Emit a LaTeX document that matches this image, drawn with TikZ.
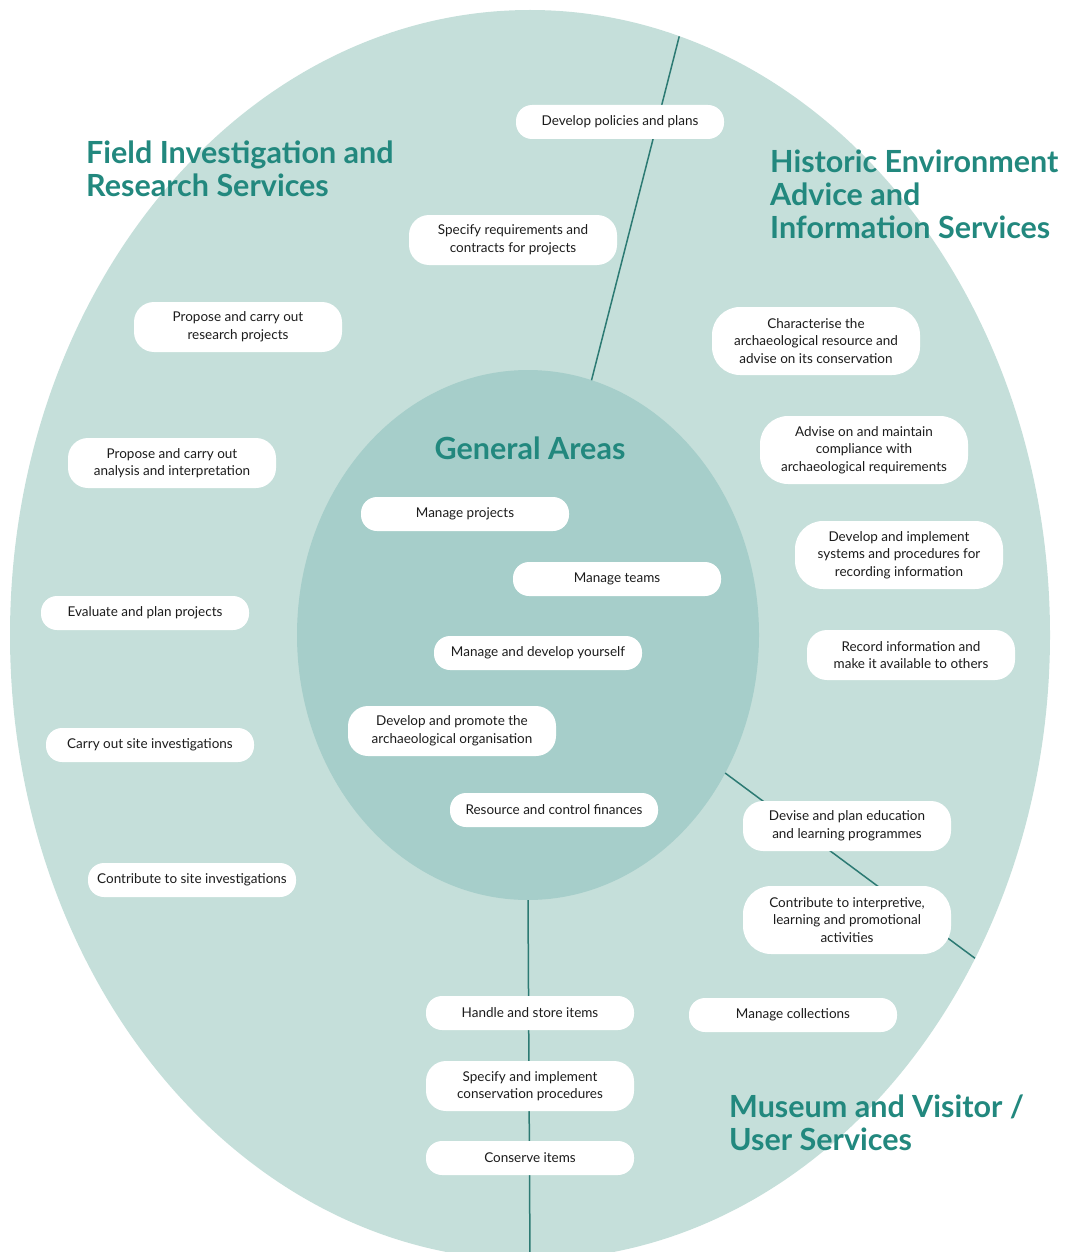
\documentclass[tikz,border=0pt]{standalone}
\usepackage{fontspec}
\setmainfont{Lato}
\usetikzlibrary{shapes.geometric}
\definecolor{outerfill}{HTML}{C5DFDA}
\definecolor{innerfill}{HTML}{A6CECA}
\definecolor{titlecol}{HTML}{22887E}
\definecolor{linecol}{HTML}{2C7A73}
\definecolor{boxtext}{HTML}{1C1C1C}
\begin{document}
\begin{tikzpicture}[x=1pt,y=-1pt,
  pill/.style={fill=white, rounded corners=16pt, minimum width=208pt, minimum height=34pt, inner sep=0pt, align=center, text=boxtext, font=\fontsize{13.5}{17.5}\selectfont},
  pilltwo/.style={pill, minimum height=50pt, rounded corners=20pt},
  pillthree/.style={pill, minimum height=68pt, rounded corners=28pt},
  areatitle/.style={text=titlecol, font=\bfseries\fontsize{30.5}{33}\selectfont, align=left, inner sep=0pt, anchor=north west},
  divider/.style={draw=linecol, line width=1.5pt}]
\useasboundingbox (0,0) rectangle (1071,1252);
\clip (0,0) rectangle (1071,1252);
% ellipses
\node[ellipse, fill=outerfill, minimum width=1040pt, minimum height=1250pt, inner sep=0pt, outer sep=0pt] (outer) at (530,635) {};
\node[ellipse, fill=innerfill, minimum width=462pt, minimum height=530pt, inner sep=0pt, outer sep=0pt] (inner) at (528,635) {};
% dividers
\draw[divider] (inner.76.5) -- (outer.76.5);
\draw[divider] (inner.-35.5) -- (outer.-36);
\draw[divider] (inner.south) -- (outer.south);
% area titles
\node[areatitle] (fir) at (86,141) {Field Investigation and\\Research Services};
\node[areatitle] (hea) at (770,150) {Historic Environment\\Advice and\\Information Services};
\node[areatitle] (mvu) at (729,1095) {Museum and Visitor /\\User Services};
\node[areatitle, anchor=center, align=center] (gen) at (530,448) {General Areas};
% field investigation
\node[pill] (dpp) at (620,122) {Develop policies and plans};
\node[pilltwo] (srq) at (513,240) {Specify requirements and\\contracts for projects};
\node[pilltwo] (prr) at (238,327) {Propose and carry out\\research projects};
\node[pilltwo] (pai) at (172,463) {Propose and carry out\\analysis and interpretation};
\node[pill] (epp) at (145,613) {Evaluate and plan projects};
\node[pill] (csi) at (150,745) {Carry out site investigations};
\node[pill] (cts) at (192,880) {Contribute to site investigations};
% historic environment
\node[pillthree] (cha) at (816,341) {Characterise the\\archaeological resource and\\advise on its conservation};
\node[pillthree] (adv) at (864,450) {Advise on and maintain\\compliance with\\archaeological requirements};
\node[pillthree] (dis) at (899,555) {Develop and implement\\systems and procedures for\\recording information};
\node[pilltwo] (rec) at (911,655) {Record information and\\make it available to others};
% general areas
\node[pill] (mp) at (465,514) {Manage projects};
\node[pill] (mt) at (617,579) {Manage teams};
\node[pill] (mdy) at (538,653) {Manage and develop yourself};
\node[pilltwo] (dpo) at (452,731) {Develop and promote the\\archaeological organisation};
\node[pill] (rcf) at (554,810) {Resource and control finances};
% museum
\node[pilltwo] (dpe) at (847,826) {Devise and plan education\\and learning programmes};
\node[pillthree] (cti) at (847,920) {Contribute to interpretive,\\learning and promotional\\activities};
\node[pill] (mc) at (793,1015) {Manage collections};
\node[pill] (hsi) at (530,1013) {Handle and store items};
\node[pilltwo] (sic) at (530,1086) {Specify and implement\\conservation procedures};
\node[pill] (ci) at (530,1158) {Conserve items};
\end{tikzpicture}
\end{document}
